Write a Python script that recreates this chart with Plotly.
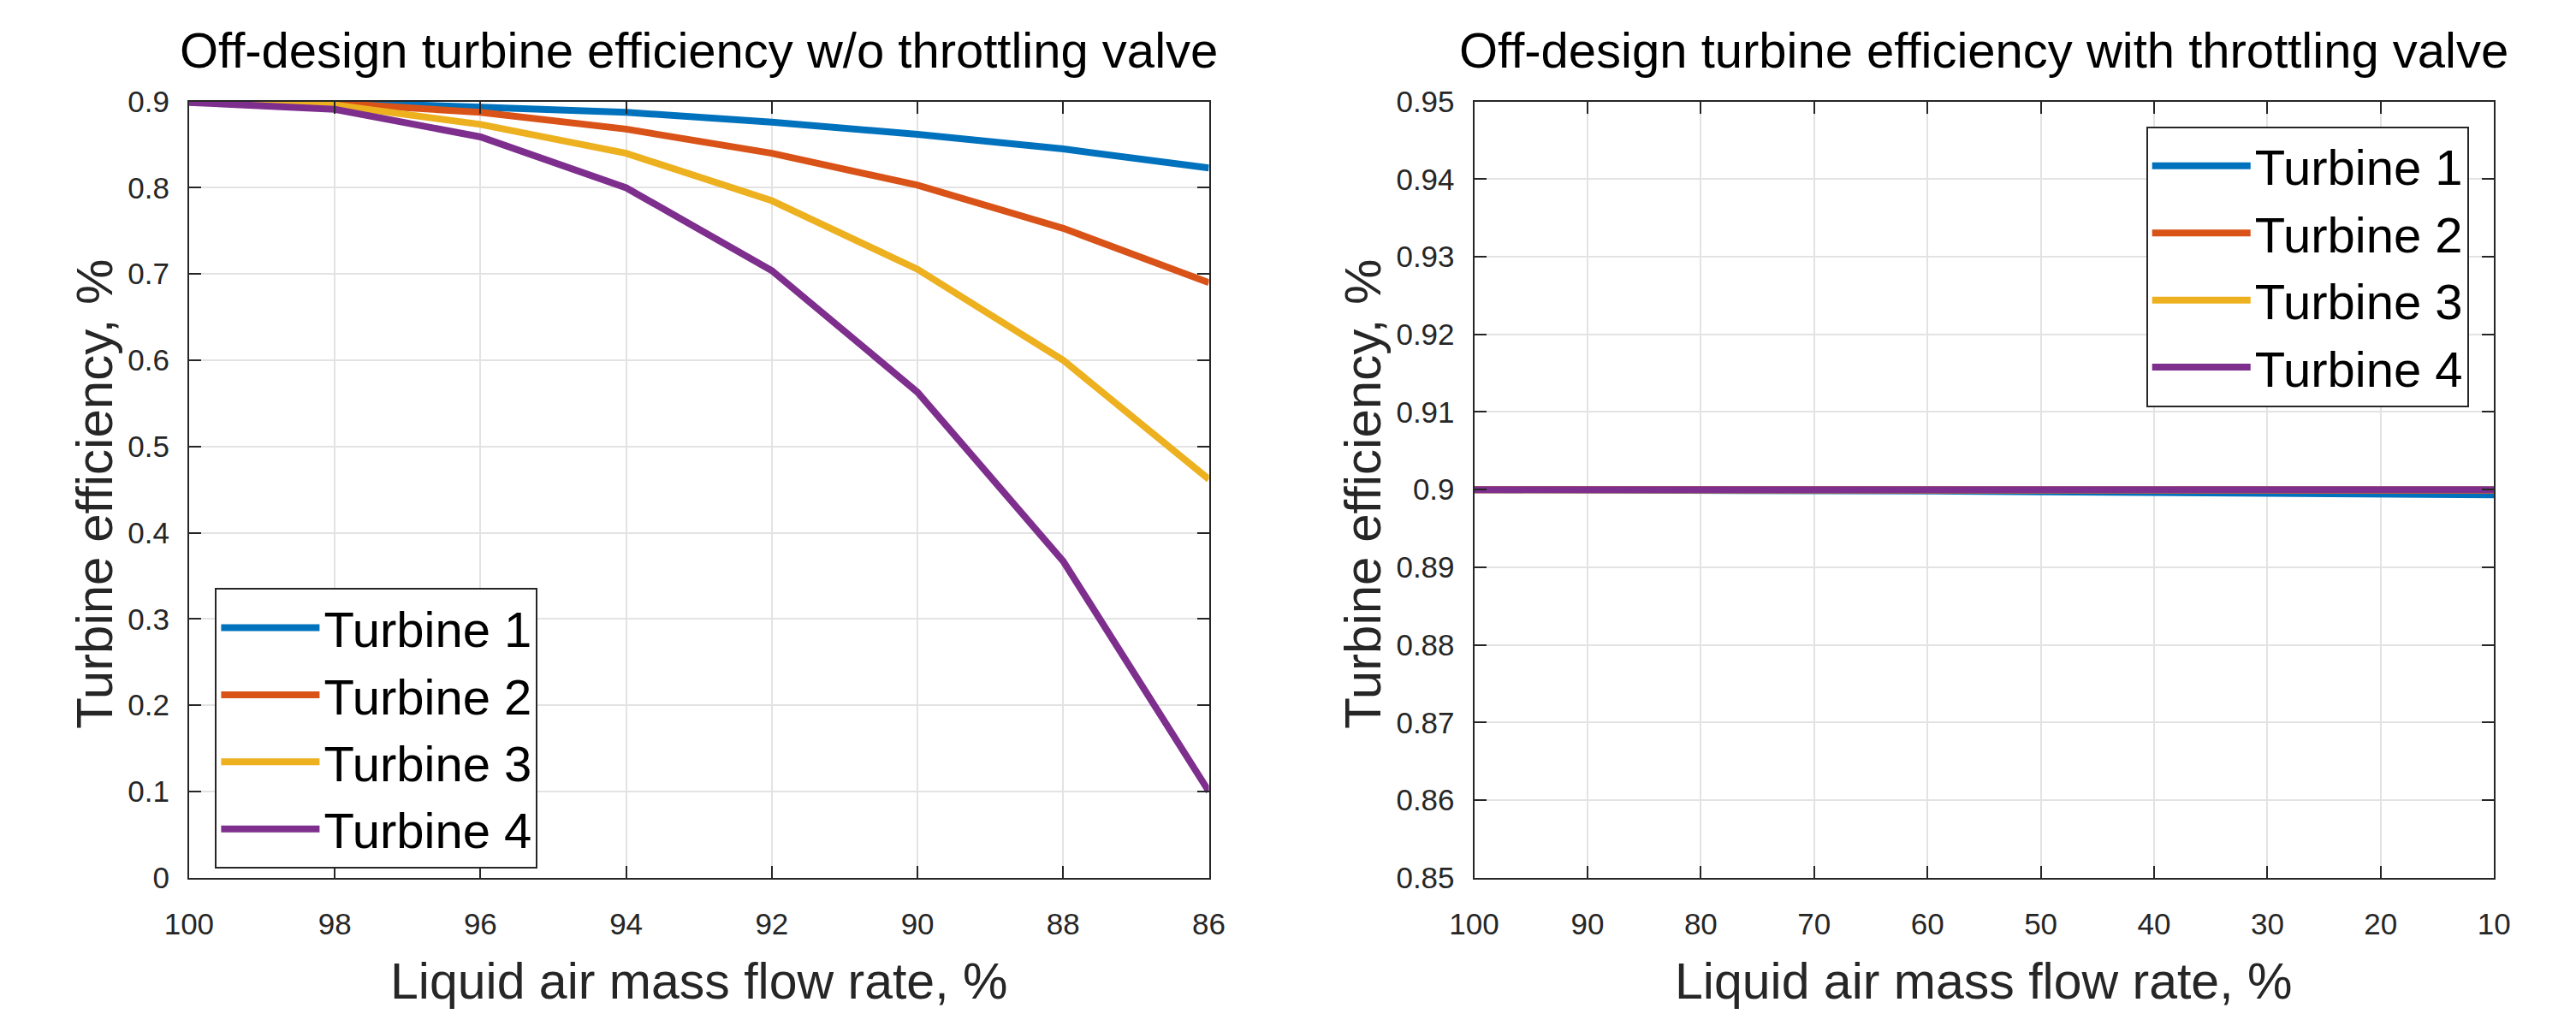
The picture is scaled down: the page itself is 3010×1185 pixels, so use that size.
import plotly.graph_objects as go

# ---------------- data ----------------
flow_wo = [100, 98, 96, 94, 92, 90, 88, 86]
t1_wo = [0.900, 0.899, 0.8935, 0.8875, 0.876, 0.862, 0.845, 0.823]
t2_wo = [0.900, 0.898, 0.8875, 0.868, 0.840, 0.803, 0.753, 0.690]
t3_wo = [0.900, 0.896, 0.8735, 0.840, 0.785, 0.7055, 0.600, 0.462]
t4_wo = [0.899, 0.891, 0.859, 0.800, 0.704, 0.563, 0.367, 0.100]

flow_with = [100, 90, 80, 70, 60, 50, 40, 30, 20, 10]
t1_with = [0.90000, 0.89999, 0.89996, 0.89990, 0.89982, 0.89972, 0.89962, 0.89952, 0.89942, 0.89932]
t2_with = [0.90000, 0.90000, 0.89999, 0.89999, 0.89998, 0.89997, 0.89996, 0.89994, 0.89992, 0.89990]
t3_with = [0.90000, 0.90000, 0.90000, 0.90000, 0.90000, 0.90000, 0.90000, 0.90000, 0.90000, 0.90000]
t4_with = [0.90000, 0.90000, 0.90000, 0.90000, 0.90000, 0.90000, 0.90000, 0.90000, 0.90000, 0.90000]

names = ["Turbine 1", "Turbine 2", "Turbine 3", "Turbine 4"]
colors = ["#0072BD", "#D95319", "#EDB120", "#7E2F8E"]

xticks_wo = [100, 98, 96, 94, 92, 90, 88, 86]
xticks_with = [100, 90, 80, 70, 60, 50, 40, 30, 20, 10]

title_wo = "Off-design turbine efficiency w/o throttling valve"
title_with = "Off-design turbine efficiency with throttling valve"
xlabel = "Liquid air mass flow rate, %"
ylabel = "Turbine efficiency, %"

# ---------------- figure ----------------
W, H = 3010, 1185
FONT = "Liberation Sans, Arial, Helvetica, sans-serif"
AX = "#262626"

fig = go.Figure()
for name, col, ys in zip(names, colors, [t1_wo, t2_wo, t3_wo, t4_wo]):
    fig.add_trace(go.Scatter(x=flow_wo, y=ys, mode="lines", name=name,
                             line=dict(color=col, width=8),
                             xaxis="x", yaxis="y", legend="legend"))
for name, col, ys in zip(names, colors, [t1_with, t2_with, t3_with, t4_with]):
    fig.add_trace(go.Scatter(x=flow_with, y=ys, mode="lines", name=name,
                             line=dict(color=col, width=8),
                             xaxis="x2", yaxis="y2", legend="legend2"))

def px_x(v):
    return v / W

def px_y(v):
    return 1 - v / H

ax_common = dict(showline=True, linecolor=AX, linewidth=2, mirror="allticks",
                 ticks="inside", ticklen=14, tickwidth=2, tickcolor=AX,
                 showgrid=True, gridcolor="#e3e3e3", gridwidth=2, zeroline=False,
                 tickfont=dict(family=FONT, size=35, color=AX))
x_common = dict(ticklabelstandoff=22, **ax_common)
y_common = dict(ticklabelstandoff=14, **ax_common)

top, bottom = 102, 1040
leg_common = dict(bgcolor="white", bordercolor=AX, borderwidth=2, itemwidth=115,
                  font=dict(family=FONT, size=58, color="black"))
fig.update_layout(
    width=W, height=H, margin=dict(l=0, r=0, t=0, b=0),
    paper_bgcolor="white", plot_bgcolor="white",
    font=dict(family=FONT, color=AX),
    xaxis=dict(domain=[px_x(195), px_x(1406)], range=[100, 86], tickvals=xticks_wo,
               anchor="y", **x_common),
    yaxis=dict(domain=[px_y(bottom), px_y(top)], range=[0, 0.9], dtick=0.1,
               anchor="x", **y_common),
    xaxis2=dict(domain=[px_x(1721), px_x(2932)], range=[100, 10], tickvals=xticks_with,
                anchor="y2", **x_common),
    yaxis2=dict(domain=[px_y(bottom), px_y(top)], range=[0.85, 0.95], dtick=0.01,
                anchor="x2", **y_common),
    legend=dict(x=px_x(226), y=px_y(690), xanchor="left", yanchor="top", **leg_common),
    legend2=dict(x=px_x(2902), y=px_y(132), xanchor="right", yanchor="top", **leg_common),
    showlegend=True,
)

ann = []
for cx, t in [(800, title_wo), (2326, title_with)]:
    ann.append(dict(text=t, x=px_x(cx), y=px_y(40), xref="paper", yref="paper",
                    xanchor="center", yanchor="middle", showarrow=False,
                    font=dict(family=FONT, size=58, color="black")))
for cx in [800, 2326]:
    ann.append(dict(text=xlabel, x=px_x(cx), y=px_y(1165), xref="paper", yref="paper",
                    xanchor="center", yanchor="middle", showarrow=False,
                    font=dict(family=FONT, size=59, color=AX)))
for cx in [82, 1588]:
    ann.append(dict(text=ylabel, x=px_x(cx), y=px_y(576), xref="paper", yref="paper",
                    xanchor="center", yanchor="middle", showarrow=False, textangle=-90,
                    font=dict(family=FONT, size=60, color=AX)))
fig.update_layout(annotations=ann)

fig.write_html("out.html")
